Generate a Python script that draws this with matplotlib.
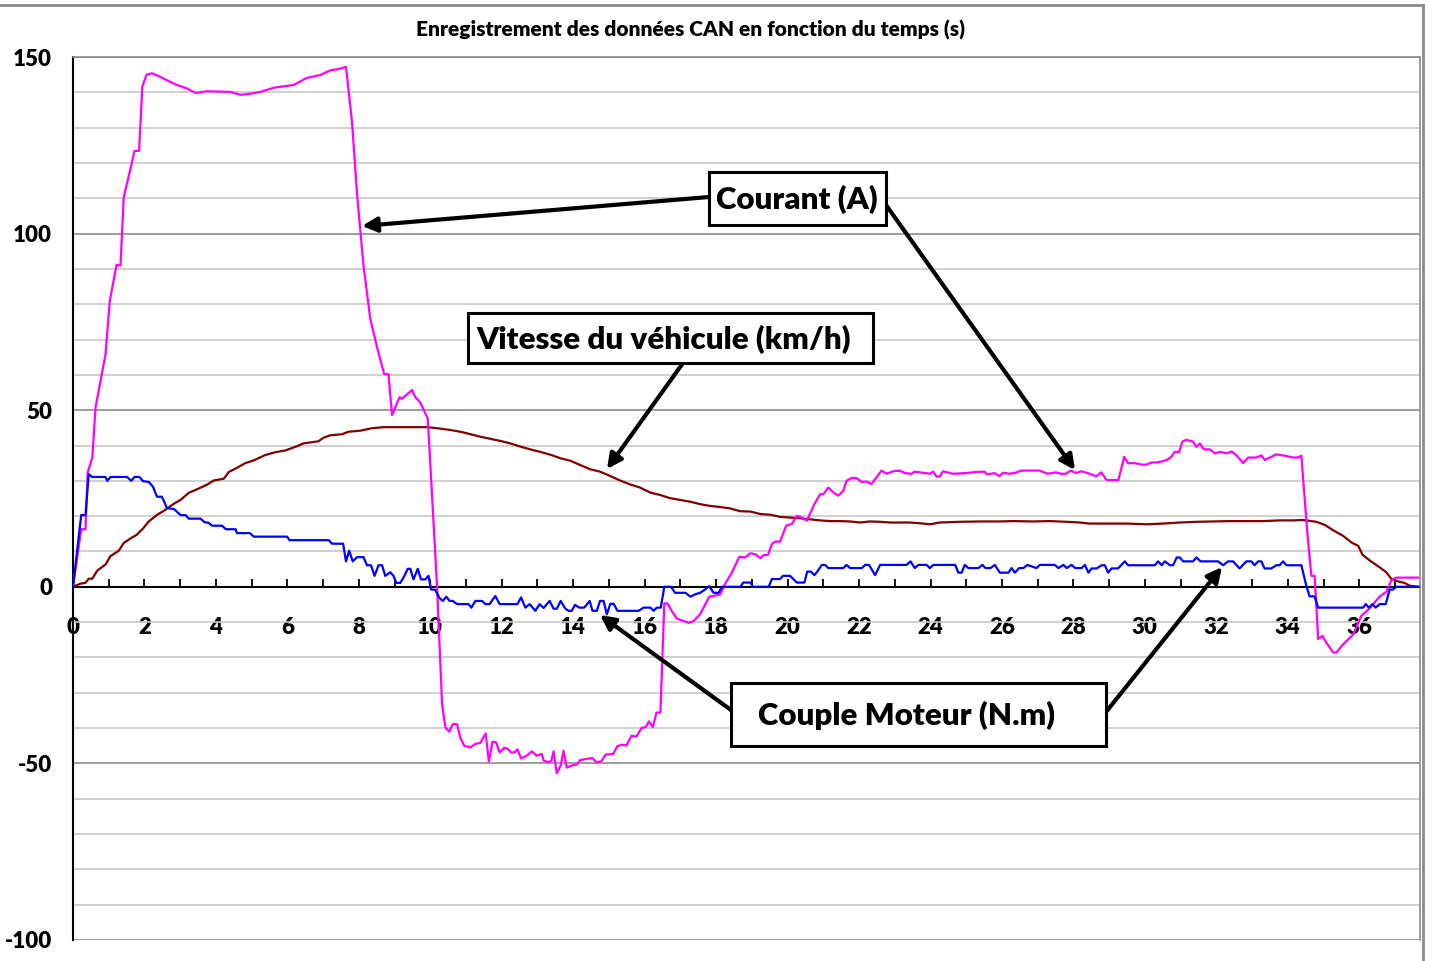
import numpy as np
import matplotlib.pyplot as plt
from matplotlib.lines import Line2D
from matplotlib.patches import Rectangle

plt.rcParams['font.family'] = ['Lato', 'DejaVu Sans']
plt.rcParams['font.weight'] = 'heavy'
plt.rcParams['axes.unicode_minus'] = False

# Courant (A) - magenta
t_courant = [0, 0.23, 0.35, 0.41, 0.54, 0.63, 0.91, 1.03, 1.22, 1.33, 1.42, 1.61, 1.72, 1.85,
             1.94, 2.06, 2.21, 2.40, 2.63, 2.91, 3.19, 3.43, 3.75, 4.41, 4.69, 4.97, 5.24, 5.62,
             6.18, 6.55, 6.92, 7.20, 7.48, 7.64, 7.81, 7.95, 8.13, 8.32, 8.51, 8.71, 8.83, 8.93,
             9.14, 9.20, 9.49, 9.58, 9.72, 9.93, 10.19, 10.33, 10.42, 10.53, 10.63, 10.75, 10.84,
             10.95, 11.12, 11.26, 11.40, 11.55, 11.64, 11.74, 11.84, 11.94, 12.07, 12.16, 12.26,
             12.36, 12.44, 12.54, 12.70, 12.84, 12.98, 13.12, 13.17, 13.31, 13.39, 13.45, 13.54,
             13.65, 13.73, 13.82, 13.96, 14.10, 14.19, 14.33, 14.54, 14.65, 14.79, 14.91, 15.12,
             15.23, 15.35, 15.49, 15.63, 15.77, 15.91, 16.03, 16.12, 16.23, 16.33, 16.44, 16.55,
             16.64, 16.76, 16.90, 17.04, 17.23, 17.37, 17.55, 17.81, 18.11, 18.25, 18.44, 18.65,
             18.81, 18.96, 19.10, 19.24, 19.33, 19.45, 19.56, 19.65, 19.79, 19.96, 20.12, 20.26,
             20.40, 20.54, 20.75, 20.91, 21.00, 21.14, 21.28, 21.42, 21.56, 21.65, 21.79, 21.93,
             22.07, 22.21, 22.35, 22.63, 22.77, 22.95, 23.14, 23.28, 23.47, 23.56, 23.84, 23.98,
             24.07, 24.17, 24.26, 24.35, 24.63, 25.00, 25.28, 25.51, 25.58, 25.79, 25.93, 26.03,
             26.20, 26.39, 26.53, 27.05, 27.28, 27.51, 27.65, 27.79, 27.93, 28.07, 28.21, 28.40,
             28.64, 28.78, 28.93, 29.26, 29.42, 29.53, 29.72, 29.91, 30.05, 30.19, 30.33, 30.47,
             30.61, 30.72, 30.84, 30.96, 31.05, 31.16, 31.35, 31.44, 31.54, 31.65, 31.82, 31.96,
             32.10, 32.29, 32.43, 32.57, 32.75, 32.89, 33.12, 33.26, 33.36, 33.68, 33.92, 34.15,
             34.29, 34.38, 34.55, 34.66, 34.75, 34.85, 34.97, 35.08, 35.27, 35.36, 35.55, 35.83,
             36.06, 36.29, 36.57, 36.76, 36.90, 37.04, 37.65]
courant = [0, 16.3, 16.3, 32.4, 36.5, 50.7, 65.8, 81, 91.2, 91, 110.3, 118.4, 123.4, 123.4,
           141.6, 145, 145.4, 144.6, 143.4, 142.1, 141.1, 139.8, 140.3, 140.1, 139.3, 139.6, 140.1, 141.3,
           142.1, 144.1, 144.9, 146.2, 146.7, 147.2, 131.5, 111.3, 91, 75.9, 67.8, 60.2, 60.2, 48.6,
           53.7, 53.2, 55.7, 53.7, 52.2, 47.6, 0, -33.2, -39.8, -41, -38.9, -38.9, -42.7,
           -45, -45.5, -44.5, -44.2, -41.5, -49.5, -43.9, -44, -46.9, -45.6, -45.8, -46.9,
           -46.9, -46, -48.6, -47.8, -46.6, -47.8, -47.3, -49.2, -49.7, -49.2, -46.6, -52.8,
           -50.6, -46.4, -51.2, -50.6, -50.3, -49.1, -48.8, -48.5, -49.7, -49.4, -47.5, -47.3,
           -45.2, -44.7, -44.9, -42.2, -42.4, -40, -39.7, -38.1, -39.7, -35.6, -35.6, -4.7,
           -4.7, -6.9, -9, -9.5, -10.2, -9.7, -7.8, -2.8, -2.2, 0.8, 4, 8.5,
           8.3, 9.5, 9.2, 8.1, 9, 9, 12.1, 12.8, 12.8, 17.3, 17.8, 20.1,
           19.6, 18.7, 23.4, 26.2, 26.2, 28.1, 26.7, 25.8, 27.2, 30, 30.8, 30.8,
           29.7, 29.8, 29.1, 32.9, 32, 32.7, 32.9, 32.2, 32, 32.6, 32.2, 32,
           32.6, 31.2, 31.2, 32.7, 32, 32.2, 32.5, 32.6, 31.8, 32.2, 31.3, 32.3,
           32, 32.3, 32.9, 32.9, 32, 32.4, 32, 32, 32.9, 32.2, 32.7, 32.2,
           31.3, 32.4, 30.2, 30.2, 36.8, 35, 35, 34.6, 34.6, 35.2, 35.2, 35.5,
           35.9, 36.6, 38.2, 38.2, 41.1, 41.6, 41.1, 39.6, 40.6, 38.9, 38.9, 37.8,
           38.2, 37.8, 38.3, 37.2, 35, 36.6, 36.6, 37.2, 35.9, 37.5, 37.1, 36.6,
           36.6, 37.1, 14.9, 3.1, 3.1, -14.8, -13.9, -15.8, -18.6, -18.6, -16.3, -13.5,
           -8.2, -6.1, -2.8, -1.4, 1.9, 2.6, 2.6]

# Couple Moteur (N.m) - blue
t_couple = [0, 0.23, 0.35, 0.44, 0.54, 0.91, 0.96, 1.05, 1.51, 1.63, 1.72, 1.86, 1.96, 2.12,
            2.24, 2.35, 2.49, 2.63, 2.83, 3.01, 3.15, 3.24, 3.57, 3.68, 3.80, 3.89, 4.17, 4.28,
            4.55, 4.59, 4.95, 5.06, 5.99, 6.06, 7.16, 7.25, 7.56, 7.64, 7.73, 7.83, 7.95, 8.13,
            8.23, 8.34, 8.44, 8.55, 8.65, 8.74, 8.88, 8.97, 9.05, 9.16, 9.25, 9.37, 9.44, 9.53,
            9.65, 9.74, 9.86, 9.95, 10.02, 10.14, 10.26, 10.35, 10.45, 10.54, 10.63, 10.75, 11.07,
            11.15, 11.26, 11.45, 11.54, 11.66, 11.82, 11.94, 12.44, 12.54, 12.66, 12.78, 12.94,
            13.06, 13.17, 13.34, 13.45, 13.54, 13.65, 13.78, 13.87, 13.96, 14.05, 14.17, 14.31,
            14.46, 14.54, 14.66, 14.75, 14.85, 14.94, 15.04, 15.13, 15.24, 15.83, 15.97, 16.16,
            16.25, 16.34, 16.45, 16.55, 16.74, 16.85, 17.14, 17.28, 17.42, 17.55, 17.69, 17.80,
            17.93, 18.07, 18.16, 18.68, 18.76, 18.96, 19.03, 19.47, 19.56, 19.79, 19.87, 20.07,
            20.26, 20.47, 20.55, 20.65, 20.75, 20.83, 20.96, 21.05, 21.14, 21.56, 21.65, 21.75,
            22.08, 22.17, 22.28, 22.45, 22.59, 23.33, 23.44, 23.56, 23.66, 23.89, 23.98, 24.08,
            24.69, 24.78, 24.87, 24.96, 25.06, 25.34, 25.45, 25.54, 25.68, 25.80, 25.94, 26.18,
            26.27, 26.36, 26.48, 26.60, 26.71, 26.97, 27.06, 27.48, 27.58, 27.72, 27.81, 27.95,
            28.05, 28.23, 28.32, 28.42, 28.51, 28.65, 28.79, 28.88, 28.97, 29.07, 29.25, 29.44,
            29.53, 30.28, 30.37, 30.47, 30.56, 30.70, 30.79, 30.89, 30.98, 31.07, 31.35, 31.44,
            31.56, 32.05, 32.19, 32.33, 32.47, 32.65, 32.84, 32.98, 33.07, 33.17, 33.26, 33.35,
            33.54, 33.68, 33.77, 33.87, 33.96, 34.38, 34.52, 34.61, 34.75, 34.85, 36.11, 36.18,
            36.27, 36.37, 36.46, 36.57, 36.74, 36.85, 36.94, 37.04, 37.65]
couple = [0, 20.3, 20.3, 31.9, 31.1, 31.1, 30.0, 31.1, 31.1, 30.0, 31.1, 31.1, 29.9, 29.7,
          28.3, 25.5, 25.5, 22.3, 22.0, 20.3, 20.3, 19.3, 19.3, 18.3, 18.1, 17.3, 17.3, 16.3,
          16.3, 15.2, 15.2, 14.2, 14.2, 13.2, 13.2, 12.2, 12.2, 7.2, 10.2, 7.2, 8.4, 8.4,
          6.1, 6.1, 3.1, 6.1, 6.1, 3.1, 4.1, 3.1, 1.1, 1.1, 2.6, 5.1, 5.1, 2.1,
          5.1, 2.1, 2.1, 3.1, -0.7, -0.9, -3.2, -4.0, -2.8, -4.0, -4.0, -4.9, -4.9,
          -5.9, -4.0, -4.0, -4.9, -4.9, -2.6, -4.9, -4.9, -3.0, -5.9, -4.9, -6.8,
          -4.9, -6.0, -4.0, -6.2, -6.2, -4.0, -6.2, -6.8, -6.8, -5.1, -5.9, -5.9,
          -4.0, -6.8, -6.8, -4.0, -4.0, -7.8, -4.8, -4.8, -6.8, -6.8, -5.9, -5.9,
          -6.8, -5.9, -5.9, 0, 0, -1.7, -1.7, -2.8, -2.1, -1.7, -0.8, 0.2,
          -1.7, -1.7, 0, 0, 1.2, 1.2, 0, 0, 2.2, 2.2, 3.1, 3.1,
          1.2, 1.2, 4.3, 4.3, 3.3, 4.3, 6.2, 6.2, 5.3, 5.3, 6.2, 5.3,
          5.3, 6.2, 6.2, 3.3, 6.2, 6.2, 7.2, 5.3, 6.2, 6.2, 5.3, 6.2,
          6.2, 4.0, 4.0, 6.2, 5.3, 5.3, 6.2, 5.3, 5.3, 6.2, 4.0, 4.0,
          5.3, 4.0, 5.3, 5.3, 6.2, 5.3, 6.2, 6.2, 5.3, 6.2, 5.3, 6.2,
          5.3, 5.3, 6.2, 4.0, 5.2, 5.2, 6.1, 6.1, 4.0, 5.2, 5.2, 7.2,
          6.1, 6.1, 7.2, 6.1, 7.2, 6.1, 6.1, 8.3, 8.3, 7.2, 7.2, 8.3,
          7.2, 7.2, 6.1, 7.2, 7.2, 5.2, 7.2, 7.2, 6.1, 7.2, 7.2, 5.2,
          5.2, 6.1, 6.1, 7.2, 6.1, 6.1, 0.2, -2.7, -2.7, -5.9, -5.9, -4.9,
          -5.9, -4.9, -5.9, -4.9, -4.9, -0.8, -0.8, 0, 0]

# Vitesse du vehicule (km/h) - dark red
t_vitesse = [0, 0.21, 0.35, 0.44, 0.54, 0.68, 0.91, 1.05, 1.28, 1.42, 1.61, 1.78, 1.96, 2.12,
             2.37, 2.54, 2.82, 3.01, 3.24, 3.47, 3.75, 3.94, 4.22, 4.36, 4.59, 4.82, 5.06, 5.38,
             5.66, 5.94, 6.27, 6.45, 6.87, 7.01, 7.20, 7.53, 7.71, 8.04, 8.37, 8.69, 9.91, 10.19,
             10.56, 10.84, 11.13, 11.40, 11.68, 11.96, 12.24, 12.52, 12.80, 13.08, 13.36, 13.64,
             13.92, 14.19, 14.47, 14.75, 15.03, 15.31, 15.59, 15.87, 16.15, 16.43, 16.71, 16.99,
             17.27, 17.55, 17.83, 18.11, 18.39, 18.67, 18.96, 19.24, 19.52, 19.79, 20.07, 20.35,
             20.63, 20.91, 21.19, 21.47, 21.75, 22.03, 22.31, 22.59, 22.87, 23.15, 23.42, 23.70,
             23.98, 24.26, 24.82, 25.38, 25.94, 26.31, 26.87, 27.34, 27.81, 28.18, 28.46, 28.74,
             29.11, 29.49, 30.05, 30.51, 30.98, 31.44, 31.91, 32.38, 32.84, 33.31, 33.77, 34.15,
             34.38, 34.52, 34.80, 35.04, 35.27, 35.55, 35.79, 35.97, 36.09, 36.30, 36.53, 36.76,
             36.90, 37.09, 37.27, 37.41, 37.65]
vitesse = [0, 0.9, 1.1, 2.3, 2.3, 4.6, 6.3, 8.7, 10.2, 12.4, 13.7, 14.7, 16.5, 18.5,
           20.5, 21.5, 23.5, 24.6, 26.6, 27.6, 28.9, 30.1, 30.6, 32.5, 33.7, 35.0, 35.8, 37.3,
           38.1, 38.6, 39.8, 40.6, 41.2, 42.2, 42.9, 43.2, 43.9, 44.2, 44.9, 45.2, 45.2, 44.9,
           44.4, 43.9, 43.2, 42.5, 41.9, 41.3, 40.6, 39.7, 38.9, 38.2, 37.4, 36.4,
           35.7, 34.5, 33.3, 32.6, 31.4, 30.1, 29.0, 28.1, 26.7, 26.0, 25.1, 24.6,
           24.1, 23.4, 22.9, 22.6, 22.2, 21.4, 21.3, 20.6, 20.4, 19.8, 19.6, 19.4,
           19.1, 18.8, 18.6, 18.6, 18.5, 18.2, 18.5, 18.4, 18.2, 18.2, 18.2, 18.0,
           17.7, 18.2, 18.4, 18.5, 18.5, 18.6, 18.5, 18.6, 18.4, 18.2, 17.9, 17.9,
           17.9, 17.9, 17.7, 17.9, 18.2, 18.4, 18.5, 18.6, 18.6, 18.6, 18.8, 18.8,
           18.9, 18.8, 18.4, 17.5, 16.0, 14.4, 12.5, 11.6, 9.1, 7.4, 5.8, 4.1,
           2.2, 1.5, 1.1, 0.3, 0]

W, H = 1429, 961


def fig_pos(x, y):
    # pixel position (from top-left) -> figure fraction
    return (x / W, 1 - y / H)


fig = plt.figure(figsize=(W / 100, H / 100), dpi=100)
ax = fig.add_axes([73 / W, 1 - 940 / H, (1420 - 73) / W, (940 - 57) / H])

ax.plot(t_vitesse, vitesse, color='#800000', lw=1.6, zorder=3)
ax.plot(t_couple, couple, color='#0000FF', lw=1.6, zorder=4)
ax.plot(t_courant, courant, color='#FF00FF', lw=1.6, zorder=3)

ax.set_xlim(0, 37.7)
ax.set_ylim(-100, 150)
ax.set_yticks(np.arange(-100, 151, 50))
ax.set_yticks(np.arange(-100, 151, 10), minor=True)
ax.set_xticks(np.arange(0, 37, 2))
ax.set_xticks(np.arange(0, 38, 1), minor=True)

ax.grid(True, which='major', axis='y', color='#8c8c8c', lw=1.2, zorder=0)
ax.grid(True, which='minor', axis='y', color='#c8c8c8', lw=1.2, zorder=0)

ax.spines['bottom'].set_position(('data', 0))
ax.spines['bottom'].set_color('black')
ax.spines['bottom'].set_linewidth(1.5)
ax.spines['bottom'].set_zorder(2)
ax.spines['left'].set_color('black')
ax.spines['left'].set_linewidth(1.5)
for s in ['top', 'right']:
    ax.spines[s].set_color('#8c8c8c')
    ax.spines[s].set_linewidth(1.2)

ax.tick_params(axis='x', which='both', direction='in', length=6, width=1.3, pad=22,
               labelsize=16)
ax.tick_params(axis='y', which='both', length=0, pad=15, labelsize=16)
for lab in ax.get_xticklabels() + ax.get_yticklabels():
    lab.set_fontweight('heavy')

fig.text(*fig_pos(690, 30), 'Enregistrement des données CAN en fonction du temps (s)',
         ha='center', va='center', fontsize=15, fontweight='heavy')

# outer chart border (top and right)
fig.add_artist(Line2D([0, 1423 / W], [1 - 5 / H, 1 - 5 / H], color='#8c8c8c', lw=2,
                      transform=fig.transFigure))
fig.add_artist(Line2D([1423 / W, 1423 / W], [1 - 5 / H, 0], color='#8c8c8c', lw=2,
                      transform=fig.transFigure))

# arrows (tail -> head), in pixels
arrows = [((709, 197), (362, 226)),
          ((886, 205), (1075, 470)),
          ((683, 363), (607, 469)),
          ((731, 710), (600, 615)),
          ((1106, 712), (1222, 567))]
for tail, head in arrows:
    ax.annotate('', xy=fig_pos(*head), xytext=fig_pos(*tail),
                xycoords='figure fraction', textcoords='figure fraction',
                arrowprops=dict(arrowstyle='-|>', lw=3, color='black',
                                mutation_scale=22, shrinkA=0, shrinkB=0),
                annotation_clip=False, zorder=6)

# labelled boxes: (x0, y0, x1, y1) in pixels, text centre x
boxes = [('Courant (A)', (709, 172, 886, 225), 797),
         ('Vitesse du véhicule (km/h)', (468, 313, 873, 363), 664),
         ('Couple Moteur (N.m)', (731, 683, 1106, 746), 907)]
for label, (x0, y0, x1, y1), xc in boxes:
    fig.add_artist(Rectangle(fig_pos(x0, y1), (x1 - x0) / W, (y1 - y0) / H,
                             transform=fig.transFigure, facecolor='white',
                             edgecolor='black', lw=2.2, zorder=7))
    fig.text(*fig_pos(xc, (y0 + y1) / 2 + 1), label, ha='center', va='center',
             fontsize=22.5, fontweight='heavy', zorder=8)

fig.savefig('out.png', dpi=100)
